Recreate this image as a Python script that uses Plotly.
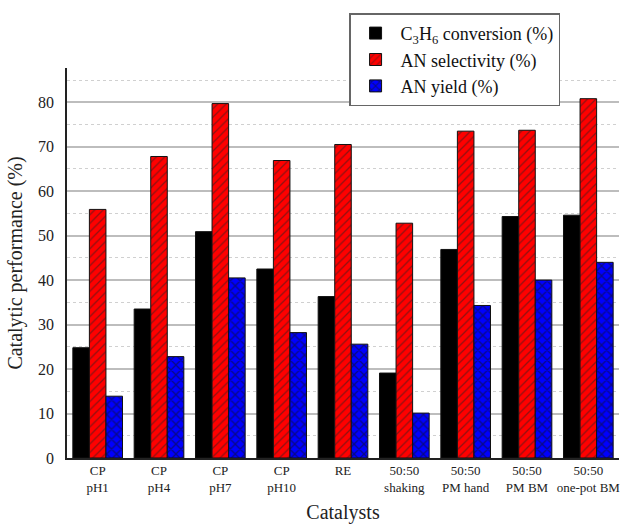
import plotly.graph_objects as go

# Catalyst labels (two-line tick labels)
catalysts = ["CP<br>pH1", "CP<br>pH4", "CP<br>pH7", "CP<br>pH10", "RE",
             "50:50<br>shaking", "50:50<br>PM hand", "50:50<br>PM BM",
             "50:50<br>one-pot BM"]

# Catalytic performance values (%)
c3h6_conversion = [24.8, 33.5, 50.9, 42.5, 36.3, 19.1, 46.9, 54.3, 54.6]
an_selectivity = [55.9, 67.8, 79.7, 66.9, 70.5, 52.8, 73.5, 73.7, 80.8]
an_yield = [13.9, 22.8, 40.5, 28.2, 25.6, 10.1, 34.3, 40.0, 44.0]

y_ticks = [0, 10, 20, 30, 40, 50, 60, 70, 80]

serif = "Liberation Serif"
outline = dict(color="#111", width=1)

fig = go.Figure()
fig.add_trace(go.Bar(
    x=catalysts, y=c3h6_conversion,
    name="C<sub>3</sub>H<sub>6</sub> conversion (%)",
    marker=dict(color="black", line=outline),
))
fig.add_trace(go.Bar(
    x=catalysts, y=an_selectivity,
    name="AN selectivity (%)",
    marker=dict(color="#ff0000", line=outline,
                pattern=dict(shape="/", bgcolor="#ff0000", fgcolor="#222222",
                             size=6, solidity=0.22)),
))
fig.add_trace(go.Bar(
    x=catalysts, y=an_yield,
    name="AN yield (%)",
    marker=dict(color="#0000ff", line=outline,
                pattern=dict(shape="x", bgcolor="#0000ff", fgcolor="#111111",
                             size=7, solidity=0.35)),
))

fig.update_layout(
    width=621, height=524,
    margin=dict(l=67, r=2, t=68, b=66),
    paper_bgcolor="white", plot_bgcolor="white",
    barmode="group", bargap=0.19, bargroupgap=0,
    font=dict(family=serif, color="#222"),
    showlegend=True,
    legend=dict(
        x=0.511, y=1.14, xanchor="left", yanchor="top",
        bordercolor="#666", borderwidth=1.5, bgcolor="white",
        font=dict(family=serif, size=18, color="#111"),
        tracegroupgap=0, itemwidth=40,
    ),
)

fig.update_xaxes(
    type="category",
    showline=True, linecolor="#222", linewidth=1.5,
    ticks="", showgrid=False,
    tickfont=dict(family=serif, size=13, color="#222"),
    title=dict(text="Catalysts", font=dict(family=serif, size=20, color="#222"),
               standoff=14),
)

fig.update_yaxes(
    range=[0, 87.7],
    tickvals=y_ticks,
    showline=True, linecolor="#222", linewidth=1.5,
    ticks="", ticklabelstandoff=8,
    showgrid=True, gridcolor="#bdbdbd", gridwidth=1.5,
    minor=dict(dtick=5, showgrid=True, gridcolor="#d0d0d0",
               griddash="dot", gridwidth=1),
    zeroline=False,
    tickfont=dict(family=serif, size=16, color="#222"),
    title=dict(text="Catalytic performance (%)",
               font=dict(family=serif, size=20, color="#222"), standoff=10),
)

fig.write_html("out.html")
